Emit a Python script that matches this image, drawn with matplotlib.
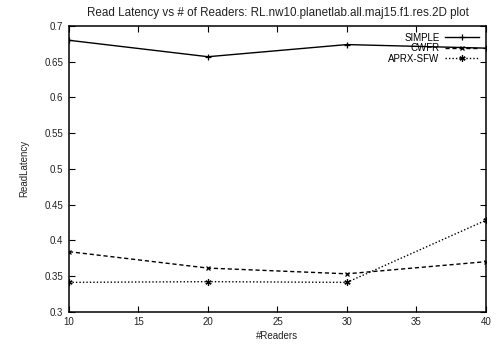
import matplotlib
matplotlib.use('Agg')
import matplotlib.pyplot as plt

readers = [10, 20, 30, 40]
simple = [0.680, 0.657, 0.674, 0.669]
cwfr = [0.384, 0.361, 0.353, 0.370]
aprx_sfw = [0.341, 0.342, 0.341, 0.428]

xticks = [10, 15, 20, 25, 30, 35, 40]
yticks = [0.3, 0.35, 0.4, 0.45, 0.5, 0.55, 0.6, 0.65, 0.7]

plt.rcParams['font.family'] = ['Liberation Sans', 'DejaVu Sans']
plt.rcParams['font.size'] = 7

fig = plt.figure(figsize=(5.01, 3.49), dpi=100)
ax = fig.add_axes([0.1377, 0.107, 0.8323, 0.8185])

ax.plot(readers, simple, color='black', lw=1, ls='-', marker='+', ms=4.5, mew=0.9, label='SIMPLE')
ax.plot(readers, cwfr, color='black', lw=1, ls=(0, (3, 2)), marker='x', ms=3.5, mew=0.9, label='CWFR')
ax.plot(readers, aprx_sfw, color='black', lw=1, ls=(0, (1, 1.5)), marker=(6, 2, 0), ms=4.5, mew=0.9, label='APRX-SFW')

ax.set_xlim(10, 40)
ax.set_ylim(0.3, 0.7)
ax.set_xticks(xticks)
ax.set_xticklabels([str(v) for v in xticks])
ax.set_yticks(yticks)
ax.set_yticklabels(['0.3', '0.35', '0.4', '0.45', '0.5', '0.55', '0.6', '0.65', '0.7'])
ax.tick_params(direction='in', top=True, right=True, length=4, width=0.8, color='black', labelcolor='#222222', pad=4)
for s in ax.spines.values():
    s.set_linewidth(1.1)

ax.set_xlabel('#Readers', color='#222222', labelpad=3)
ax.set_ylabel('ReadLatency', color='#222222', labelpad=11)
ax.set_title('Read Latency vs # of Readers: RL.nw10.planetlab.all.maj15.f1.res.2D plot', color='#222222', pad=7)

leg = ax.legend(loc='upper right', frameon=False, markerfirst=False, handlelength=3.5,
                labelspacing=0.05, borderaxespad=0.15, handletextpad=0.6, bbox_to_anchor=(0.997, 0.995))

fig.savefig('out.png', dpi=100)
